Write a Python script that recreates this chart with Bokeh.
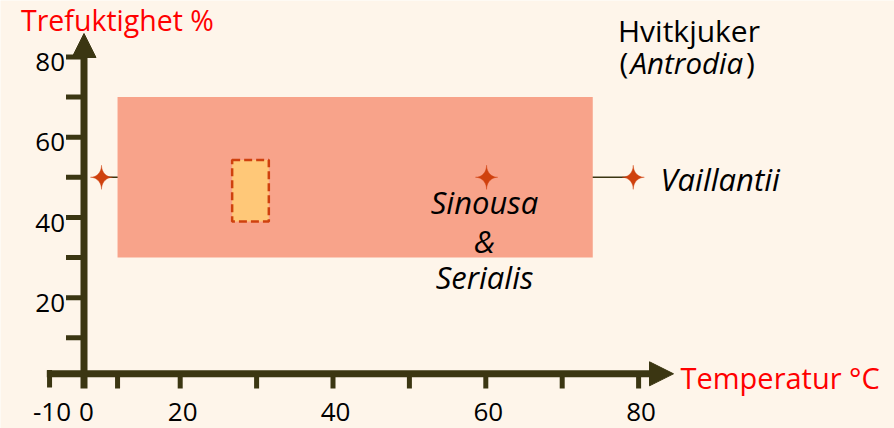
import numpy as np
from bokeh.plotting import figure
from bokeh.models import Range1d, Arrow, NormalHead
from bokeh.core.properties import value
from bokeh.embed import file_html
from bokeh.resources import INLINE

# ---------------- data (diagram temperature / humidity units) ----------------
x_tick_pos = [2.9, 7.4, 11.8, 20, 30, 40, 50, 60, 70, 80]
x_tick_labels = ["-10", "0", "", "20", "", "40", "", "60", "", "80"]
y_tick_pos = [10, 20, 30, 40, 50, 60, 70, 80]
y_tick_labels = ["", "20", "", "40", "", "60", "", "80"]

# wide growth range (Sinousa & Serialis)
wide_temp = [11.8, 74.0]
wide_hum = [30, 70]
# optimum box
opt_temp = [26.8, 31.6]
opt_hum = [39, 54.3]
# Vaillantii range markers
star_temp = [9.7, 60.1, 79.3]
star_hum = [50, 50, 50]

# ---------------- styling ----------------
BG = "#FEF5EA"
AX = "#3B3612"
SALMON = "#F8A38A"
ORANGE = "#FFC878"
DARKRED = "#CF410E"
RED = "#FF0000"
FONT = "Open Sans"

W, H = 894, 428
PXX, PXY = 7.64, 4.014
X0 = 20 - 179.7 / PXX
X1 = X0 + W / PXX
Y1 = 377.5 / PXY
Y0 = Y1 - H / PXY
SHIFT = 0.44  # baseline correction, in em


def fx(px):  # window pixel -> data x
    return X0 + px / PXX


def fy(py):  # window pixel -> data y
    return Y1 - py / PXY


def fb(py, fs):  # text baseline pixel -> data y
    return fy(py - SHIFT * fs)


p = figure(width=W, height=H, x_range=Range1d(X0, X1), y_range=Range1d(Y0, Y1),
           output_backend="svg", toolbar_location=None, min_border=0,
           x_axis_type=None, y_axis_type=None, title=None,
           background_fill_color=BG, border_fill_color=BG, outline_line_color=None)
p.grid.visible = False

# Vaillantii range line (under the rectangle)
p.line(x=[star_temp[0], star_temp[-1]], y=[star_hum[0], star_hum[-1]],
       line_color=AX, line_width=1.5)

# wide range rect
p.quad(left=[wide_temp[0]], right=[wide_temp[1]], bottom=[wide_hum[0]], top=[wide_hum[1]],
       fill_color=SALMON, line_color=None)

# optimum rect
p.quad(left=[opt_temp[0]], right=[opt_temp[1]], bottom=[opt_hum[0]], top=[opt_hum[1]],
       fill_color=ORANGE, line_color=DARKRED, line_width=2.5, line_dash="8 4")

# four-pointed stars
t = np.linspace(0, 2 * np.pi, 160)
cs, sn = np.cos(t), np.sin(t)
ex = 3.6
ux = np.sign(cs) * np.abs(cs) ** ex
uy = np.sign(sn) * np.abs(sn) ** ex
rx, ry = 11 / PXX, 12 / PXY
xs = [list(cx + rx * ux) for cx in star_temp]
ys = [list(cy + ry * uy) for cy in star_hum]
p.patches(xs=xs, ys=ys, fill_color=DARKRED, line_color=DARKRED, line_width=0.5)

# axes
axis_x = fx(83.5)
axis_y = fy(373.3)
p.add_layout(Arrow(x_start=axis_x, y_start=fy(388), x_end=axis_x, y_end=fy(33),
                   line_color=AX, line_width=7,
                   end=NormalHead(size=24, fill_color=AX, line_color=AX, line_width=1)))
p.add_layout(Arrow(x_start=fx(46.3), y_start=axis_y, x_end=fx(673), y_end=axis_y,
                   line_color=AX, line_width=7,
                   end=NormalHead(size=24, fill_color=AX, line_color=AX, line_width=1)))

# y ticks
p.segment(x0=[fx(65.5)] * len(y_tick_pos), x1=[axis_x] * len(y_tick_pos),
          y0=y_tick_pos, y1=y_tick_pos, line_color=AX, line_width=5)
# x ticks
xt = x_tick_pos[2:]
p.segment(x0=xt, x1=xt, y0=[axis_y] * len(xt), y1=[fy(388)] * len(xt),
          line_color=AX, line_width=5)
p.segment(x0=[x_tick_pos[0]], x1=[x_tick_pos[0]], y0=[fy(369.5)], y1=[fy(387)],
          line_color=AX, line_width=5)

# tick labels
TFS = 26
xl = [(x, l) for x, l in zip(x_tick_pos, x_tick_labels) if l]
p.text(x=[a for a, _ in xl], y=[fb(422.5, TFS)] * len(xl), text=[b for _, b in xl],
       text_font=value(FONT), text_font_size=f"{TFS}px", text_color="#000000",
       text_align="center", text_baseline="alphabetic", x_offset=2.5)
yl = [(y, l) for y, l in zip(y_tick_pos, y_tick_labels) if l]
p.text(x=[fx(64.5)] * len(yl), y=[a for a, _ in yl], text=[b for _, b in yl],
       text_font=value(FONT), text_font_size=f"{TFS}px", text_color="#000000",
       text_align="right", text_baseline="alphabetic", y_offset=16.5 - SHIFT * TFS)

# axis titles
p.text(x=[fx(20.5)], y=[fb(31.7, 28.5)], text=["Trefuktighet %"], text_font=value(FONT),
       text_font_size="28.5px", text_color=RED, text_align="left", text_baseline="alphabetic")
p.text(x=[fx(680)], y=[fb(390, 29)], text=["Temperatur °C"], text_font=value(FONT),
       text_font_size="29px", text_color=RED, text_align="left", text_baseline="alphabetic")

# annotations
p.text(x=[fx(617.5)], y=[fb(42.7, 30)], text=["Hvitkjuker"], text_font=value(FONT),
       text_font_size="30px", text_color="#000000", text_align="left", text_baseline="alphabetic")
p.text(x=[fx(619), fx(745.5)], y=[fb(75, 30)] * 2, text=["(", ")"], text_font=value(FONT),
       text_font_size="30px", text_color="#000000", text_align="left", text_baseline="alphabetic")
p.text(x=[fx(630)], y=[fb(75, 29.5)], text=["Antrodia"], text_font=value(FONT),
       text_font_size="29.5px", text_font_style="italic", text_color="#000000",
       text_align="left", text_baseline="alphabetic")
p.text(x=[fx(484)] * 3, y=[fb(215, 31), fb(254, 31), fb(290, 31)],
       text=["Sinousa", "&", "Serialis"],
       text_font=value(FONT), text_font_size="31px", text_font_style="italic",
       text_color="#000000", text_align="center", text_baseline="alphabetic")
p.text(x=[fx(660)], y=[fb(191.7, 31)], text=["Vaillantii"], text_font=value(FONT),
       text_font_size="31px", text_font_style="italic", text_color="#000000",
       text_align="left", text_baseline="alphabetic")

open("out.html", "w").write(file_html(p, INLINE, title="Hvitkjuker"))
